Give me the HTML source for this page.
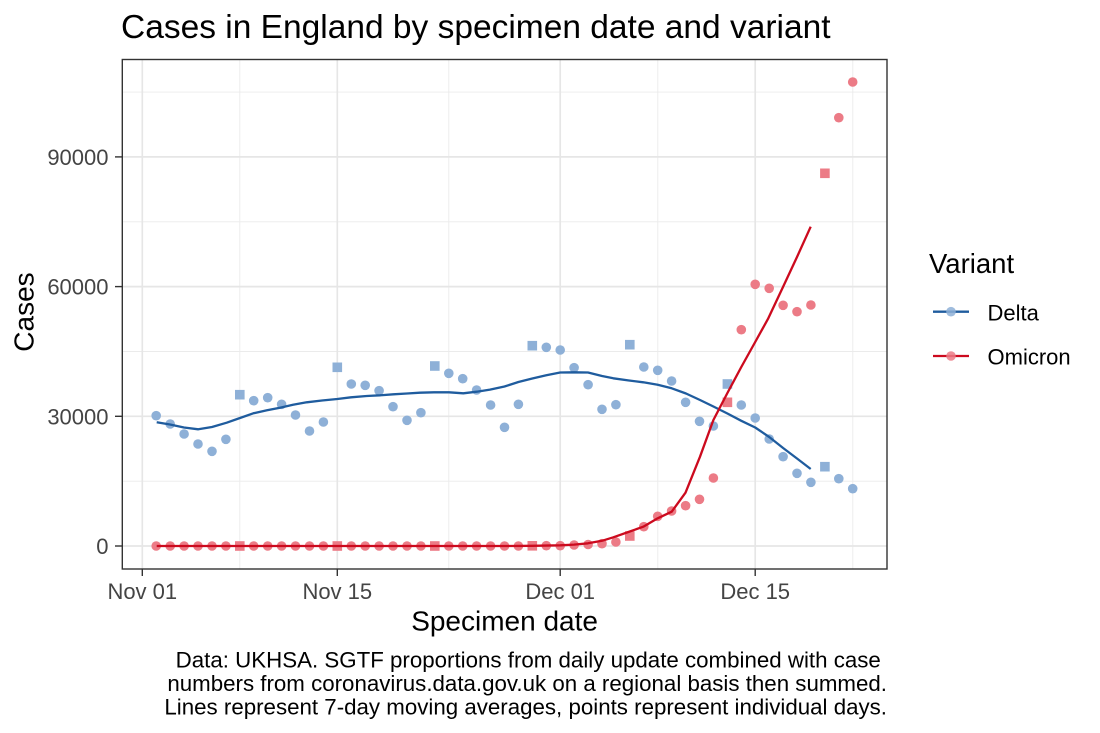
<!DOCTYPE html>
<html>
<head>
<meta charset="utf-8">
<style>
html,body{margin:0;padding:0;background:#fff;}
svg{display:block;}
text{font-family:"Liberation Sans",Arial,sans-serif;}
</style>
</head>
<body>
<svg width="1100" height="733" viewBox="0 0 1100 733" xmlns="http://www.w3.org/2000/svg">
<rect x="0" y="0" width="1100" height="733" fill="#fff"/>
<!-- title -->
<text x="121" y="38" font-size="33.5" fill="#000">Cases in England by specimen date and variant</text>

<!-- panel background -->
<rect x="122.3" y="59.5" width="764.7" height="509.5" fill="#fff"/>
<!-- minor gridlines -->
<g stroke="#ebebeb" stroke-width="0.9">
<line x1="122.3" x2="887" y1="481.2" y2="481.2"/>
<line x1="122.3" x2="887" y1="351.5" y2="351.5"/>
<line x1="122.3" x2="887" y1="221.8" y2="221.8"/>
<line x1="122.3" x2="887" y1="92.1" y2="92.1"/>
<line y1="59.5" y2="569" x1="239.8" x2="239.8"/>
<line y1="59.5" y2="569" x1="448.8" x2="448.8"/>
<line y1="59.5" y2="569" x1="657.8" x2="657.8"/>
<line y1="59.5" y2="569" x1="852.8" x2="852.8"/>
</g>
<!-- major gridlines -->
<g stroke="#e6e6e6" stroke-width="1.7">
<line x1="122.3" x2="887" y1="546" y2="546"/>
<line x1="122.3" x2="887" y1="416.3" y2="416.3"/>
<line x1="122.3" x2="887" y1="286.6" y2="286.6"/>
<line x1="122.3" x2="887" y1="156.9" y2="156.9"/>
<line y1="59.5" y2="569" x1="142.3" x2="142.3"/>
<line y1="59.5" y2="569" x1="337.3" x2="337.3"/>
<line y1="59.5" y2="569" x1="560.2" x2="560.2"/>
<line y1="59.5" y2="569" x1="755.2" x2="755.2"/>
</g>

<!-- Delta points -->
<g fill="#8eb0d7">
<circle cx="156.2" cy="415.7" r="4.8"/>
<circle cx="170.2" cy="424" r="4.8"/>
<circle cx="184.1" cy="434" r="4.8"/>
<circle cx="198" cy="444" r="4.8"/>
<circle cx="212" cy="451.3" r="4.8"/>
<circle cx="225.9" cy="439.3" r="4.8"/>
<rect x="235" y="389.9" width="9.6" height="9.6"/>
<circle cx="253.7" cy="400.7" r="4.8"/>
<circle cx="267.7" cy="397.7" r="4.8"/>
<circle cx="281.6" cy="404.3" r="4.8"/>
<circle cx="295.5" cy="415" r="4.8"/>
<circle cx="309.5" cy="431" r="4.8"/>
<circle cx="323.4" cy="422" r="4.8"/>
<rect x="332.5" y="362.5" width="9.6" height="9.6"/>
<circle cx="351.3" cy="384" r="4.8"/>
<circle cx="365.2" cy="385.3" r="4.8"/>
<circle cx="379.1" cy="390.7" r="4.8"/>
<circle cx="393" cy="406.7" r="4.8"/>
<circle cx="407" cy="420.3" r="4.8"/>
<circle cx="420.9" cy="412.7" r="4.8"/>
<rect x="430" y="361.2" width="9.6" height="9.6"/>
<circle cx="448.8" cy="373.3" r="4.8"/>
<circle cx="462.7" cy="378.7" r="4.8"/>
<circle cx="476.6" cy="390" r="4.8"/>
<circle cx="490.6" cy="405" r="4.8"/>
<circle cx="504.5" cy="427.3" r="4.8"/>
<circle cx="518.4" cy="404.3" r="4.8"/>
<rect x="527.5" y="340.9" width="9.6" height="9.6"/>
<circle cx="546.3" cy="347.3" r="4.8"/>
<circle cx="560.2" cy="350" r="4.8"/>
<circle cx="574.1" cy="367.7" r="4.8"/>
<circle cx="588.1" cy="384.7" r="4.8"/>
<circle cx="602" cy="409.3" r="4.8"/>
<circle cx="615.9" cy="404.7" r="4.8"/>
<rect x="625" y="339.9" width="9.6" height="9.6"/>
<circle cx="643.8" cy="367" r="4.8"/>
<circle cx="657.7" cy="370.3" r="4.8"/>
<circle cx="671.6" cy="381" r="4.8"/>
<circle cx="685.6" cy="402.3" r="4.8"/>
<circle cx="699.5" cy="421.3" r="4.8"/>
<circle cx="713.4" cy="426" r="4.8"/>
<rect x="722.6" y="379.2" width="9.6" height="9.6"/>
<circle cx="741.3" cy="405" r="4.8"/>
<circle cx="755.2" cy="418" r="4.8"/>
<circle cx="769.2" cy="439" r="4.8"/>
<circle cx="783.1" cy="456.7" r="4.8"/>
<circle cx="797" cy="473.3" r="4.8"/>
<circle cx="810.9" cy="482.3" r="4.8"/>
<rect x="820.1" y="461.9" width="9.6" height="9.6"/>
<circle cx="838.8" cy="478.7" r="4.8"/>
<circle cx="852.7" cy="488.7" r="4.8"/>
</g>

<!-- Omicron points -->
<g fill="#ec7b86">
<circle cx="156.2" cy="546" r="4.8"/>
<circle cx="170.2" cy="546" r="4.8"/>
<circle cx="184.1" cy="546" r="4.8"/>
<circle cx="198" cy="546" r="4.8"/>
<circle cx="212" cy="546" r="4.8"/>
<circle cx="225.9" cy="546" r="4.8"/>
<rect x="235" y="541.2" width="9.6" height="9.6"/>
<circle cx="253.7" cy="546" r="4.8"/>
<circle cx="267.7" cy="546" r="4.8"/>
<circle cx="281.6" cy="546" r="4.8"/>
<circle cx="295.5" cy="546" r="4.8"/>
<circle cx="309.5" cy="546" r="4.8"/>
<circle cx="323.4" cy="546" r="4.8"/>
<rect x="332.5" y="541.2" width="9.6" height="9.6"/>
<circle cx="351.3" cy="546" r="4.8"/>
<circle cx="365.2" cy="546" r="4.8"/>
<circle cx="379.1" cy="546" r="4.8"/>
<circle cx="393" cy="546" r="4.8"/>
<circle cx="407" cy="546" r="4.8"/>
<circle cx="420.9" cy="546" r="4.8"/>
<rect x="430" y="541.2" width="9.6" height="9.6"/>
<circle cx="448.8" cy="546" r="4.8"/>
<circle cx="462.7" cy="546" r="4.8"/>
<circle cx="476.6" cy="546" r="4.8"/>
<circle cx="490.6" cy="546" r="4.8"/>
<circle cx="504.5" cy="546" r="4.8"/>
<circle cx="518.4" cy="546" r="4.8"/>
<rect x="527.5" y="541" width="9.6" height="9.6"/>
<circle cx="546.3" cy="545.7" r="4.8"/>
<circle cx="560.2" cy="545.7" r="4.8"/>
<circle cx="574.1" cy="545" r="4.8"/>
<circle cx="588.1" cy="544.5" r="4.8"/>
<circle cx="602" cy="543.7" r="4.8"/>
<circle cx="615.9" cy="542" r="4.8"/>
<rect x="625" y="531.2" width="9.6" height="9.6"/>
<circle cx="643.8" cy="526.7" r="4.8"/>
<circle cx="657.7" cy="516.3" r="4.8"/>
<circle cx="671.6" cy="511" r="4.8"/>
<circle cx="685.6" cy="505.7" r="4.8"/>
<circle cx="699.5" cy="499.3" r="4.8"/>
<circle cx="713.4" cy="478" r="4.8"/>
<rect x="722.6" y="397.5" width="9.6" height="9.6"/>
<circle cx="741.3" cy="329.7" r="4.8"/>
<circle cx="755.2" cy="284.3" r="4.8"/>
<circle cx="769.2" cy="288.3" r="4.8"/>
<circle cx="783.1" cy="305.3" r="4.8"/>
<circle cx="797" cy="311.7" r="4.8"/>
<circle cx="810.9" cy="305" r="4.8"/>
<rect x="820.1" y="168.5" width="9.6" height="9.6"/>
<circle cx="838.8" cy="117.7" r="4.8"/>
<circle cx="852.7" cy="82" r="4.8"/>
</g>

<!-- Delta line -->
<polyline fill="none" stroke="#1f5c9e" stroke-width="2.3" stroke-linejoin="round"
points="156.7,422.3 170,424.5 184,427.5 198.3,429.3 212,427 226.7,422.7 240,418 253.3,413.3 267,410.3 280,407.7 293,404.8 306.7,402.3 322,400.5 337.3,399 351,397.3 366.7,396 380,395.3 393.3,394.3 407,393.5 420,392.7 434,392.3 449,392.3 463.3,393.3 476.7,391.7 490,389.6 504.5,386.5 518.4,382 532.3,378.5 546.3,375.3 560.2,372.5 574.1,372.3 588,372.5 602,376 613.3,378.3 629,380.5 643.3,382.3 657.7,384.8 671.7,388.3 686,393.5 700,400 713.4,406.5 727.4,413.5 741.3,420.8 755.2,427.5 769.2,437 783.1,448 797,458.5 810.7,469"/>
<!-- Omicron line -->
<polyline fill="none" stroke="#cc0a1e" stroke-width="2.3" stroke-linejoin="round"
points="156.7,546 504.5,546 532.3,545.8 560.2,545.3 574.1,544.6 588,543.3 602,540.8 613.3,537.3 629.8,531.5 643.3,526.7 657.7,518.3 671.7,511.7 685.5,492.7 700,456.7 713.4,420 727.4,393 741.3,367 755.2,342 768.3,318.3 783,287 797,257 810.7,226.7"/>

<!-- panel border -->
<rect x="122.3" y="59.5" width="764.7" height="509.5" fill="none" stroke="#333" stroke-width="1.4"/>

<!-- axis ticks -->
<g stroke="#333" stroke-width="1.4">
<line x1="115" x2="122.3" y1="546" y2="546"/>
<line x1="115" x2="122.3" y1="416.3" y2="416.3"/>
<line x1="115" x2="122.3" y1="286.6" y2="286.6"/>
<line x1="115" x2="122.3" y1="156.9" y2="156.9"/>
<line x1="142.3" x2="142.3" y1="569" y2="576"/>
<line x1="337.3" x2="337.3" y1="569" y2="576"/>
<line x1="560.2" x2="560.2" y1="569" y2="576"/>
<line x1="755.2" x2="755.2" y1="569" y2="576"/>
</g>

<!-- y tick labels -->
<g font-size="22" fill="#444" text-anchor="end">
<text x="108.5" y="554">0</text>
<text x="108.5" y="424.3">30000</text>
<text x="108.5" y="294.6">60000</text>
<text x="108.5" y="164.9">90000</text>
</g>
<!-- x tick labels -->
<g font-size="22" fill="#444" text-anchor="middle">
<text x="142.3" y="599">Nov 01</text>
<text x="337.3" y="599">Nov 15</text>
<text x="560.2" y="599">Dec 01</text>
<text x="755.2" y="599">Dec 15</text>
</g>

<!-- axis titles -->
<text x="504.6" y="630.5" font-size="28" fill="#000" text-anchor="middle">Specimen date</text>
<text transform="translate(33.3,312) rotate(-90)" font-size="28" fill="#000" text-anchor="middle">Cases</text>

<!-- legend -->
<text x="929" y="273" font-size="27.5" fill="#000">Variant</text>
<line x1="933" x2="969" y1="311.7" y2="311.7" stroke="#1f5c9e" stroke-width="2.3"/>
<circle cx="951" cy="311.7" r="4.8" fill="#8eb0d7" fill-opacity="0.85"/>
<text x="987.5" y="320.5" font-size="22" fill="#000">Delta</text>
<line x1="933" x2="969" y1="356" y2="356" stroke="#cc0a1e" stroke-width="2.3"/>
<circle cx="951" cy="356" r="4.8" fill="#ec7b86" fill-opacity="0.85"/>
<text x="987.5" y="364.5" font-size="22" fill="#000">Omicron</text>

<!-- caption -->
<g font-size="22.3" fill="#000" text-anchor="end">
<text x="880.8" y="667.5">Data: UKHSA. SGTF proportions from daily update combined with case</text>
<text x="887" y="691">numbers from coronavirus.data.gov.uk on a regional basis then summed.</text>
<text x="887" y="714.5">Lines represent 7-day moving averages, points represent individual days.</text>
</g>
</svg>
</body>
</html>
